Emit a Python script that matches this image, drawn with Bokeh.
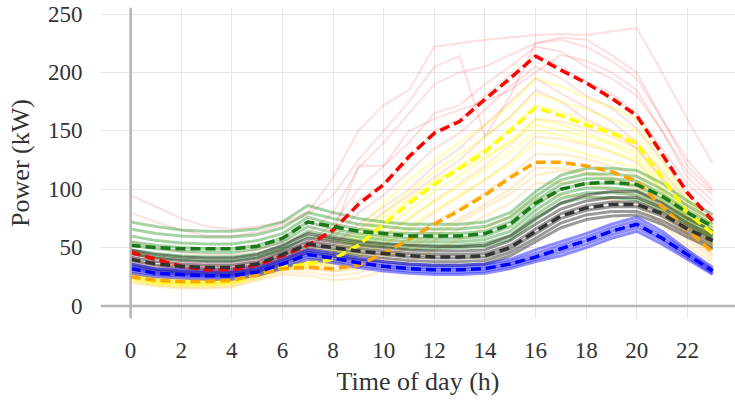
from bokeh.plotting import figure
from bokeh.models import Span, FixedTicker, Range1d
from bokeh.embed import file_html
from bokeh.resources import INLINE

hours = list(range(24))
x_ticks = list(range(0, 23, 2))
y_ticks = [0, 50, 100, 150, 200, 250]

red_members = [
    [95, 85, 75, 68, 66, 68, 72, 80, 110, 150, 172, 185, 222, 225, 228, 230, 232, 233, 232, 235, 238, 200, 160, 122],
    [80, 72, 65, 60, 60, 63, 70, 78, 95, 125, 150, 175, 205, 214, 145, 180, 225, 230, 228, 215, 200, 160, 120, 98],
    [55, 50, 46, 44, 44, 48, 55, 62, 80, 118, 140, 165, 190, 200, 205, 215, 225, 228, 222, 210, 195, 160, 125, 100],
    [48, 42, 38, 36, 36, 40, 46, 55, 70, 100, 120, 140, 165, 172, 190, 205, 222, 218, 205, 195, 180, 150, 115, 95],
    [42, 38, 34, 32, 32, 36, 42, 50, 62, 90, 105, 125, 150, 160, 180, 198, 215, 205, 192, 182, 165, 135, 105, 85],
    [38, 34, 30, 29, 29, 33, 40, 48, 58, 80, 95, 115, 135, 148, 168, 188, 205, 195, 180, 170, 152, 125, 95, 78],
    [35, 31, 28, 27, 27, 31, 38, 45, 52, 70, 85, 100, 120, 135, 155, 175, 195, 182, 170, 158, 140, 115, 90, 72],
    [40, 35, 32, 30, 30, 34, 40, 47, 55, 65, 80, 95, 110, 125, 145, 162, 185, 175, 160, 150, 135, 110, 85, 70],
    [45, 40, 36, 34, 34, 38, 45, 52, 62, 120, 120, 150, 160, 168, 175, 185, 200, 215, 210, 200, 185, 150, 110, 90],
]
red_mean = [46, 40, 34, 31, 31, 35, 43, 52, 65, 87, 104, 128, 148, 158, 177, 195, 214, 202, 191, 178, 163, 130, 97, 73]

yellow_members = [
    [28, 24, 22, 22, 23, 29, 36, 40, 48, 65, 88, 108, 125, 140, 155, 172, 195, 188, 178, 170, 160, 125, 92, 70],
    [26, 22, 21, 21, 22, 28, 35, 38, 45, 60, 80, 98, 115, 130, 145, 162, 182, 175, 168, 160, 150, 118, 88, 66],
    [25, 21, 20, 20, 21, 27, 34, 37, 42, 55, 72, 90, 106, 120, 135, 152, 172, 166, 158, 150, 142, 112, 82, 62],
    [24, 20, 19, 19, 20, 26, 33, 35, 40, 50, 66, 82, 98, 112, 126, 142, 160, 155, 148, 140, 132, 105, 77, 58],
    [23, 19, 18, 18, 19, 25, 32, 34, 38, 46, 60, 75, 90, 103, 117, 132, 150, 146, 140, 132, 125, 98, 72, 55],
    [22, 18, 17, 17, 18, 24, 31, 33, 36, 42, 54, 68, 82, 95, 108, 122, 140, 136, 130, 124, 118, 92, 68, 52],
    [27, 23, 21, 21, 22, 28, 35, 38, 44, 58, 76, 92, 108, 118, 128, 140, 155, 150, 145, 138, 128, 100, 75, 56],
]
yellow_mean = [25, 21, 20, 20, 21, 27, 33, 36, 40, 52, 70, 88, 104, 118, 132, 150, 170, 163, 155, 148, 139, 110, 80, 62]

orange_members = [
    [30, 26, 24, 24, 25, 30, 36, 38, 40, 48, 60, 75, 90, 105, 120, 138, 160, 158, 152, 145, 135, 108, 82, 58],
    [28, 24, 22, 22, 23, 28, 34, 36, 36, 42, 52, 65, 80, 94, 108, 124, 145, 143, 138, 132, 123, 98, 75, 52],
    [26, 22, 20, 20, 21, 27, 33, 34, 33, 38, 47, 58, 72, 84, 97, 112, 130, 130, 126, 120, 112, 90, 68, 48],
    [24, 20, 18, 18, 19, 25, 31, 32, 30, 33, 42, 52, 64, 75, 87, 100, 118, 118, 115, 110, 103, 83, 62, 44],
    [22, 18, 16, 16, 17, 23, 29, 29, 26, 28, 36, 45, 56, 66, 77, 88, 105, 106, 104, 100, 94, 76, 57, 40],
    [20, 17, 15, 15, 16, 22, 27, 26, 22, 24, 30, 38, 48, 57, 67, 77, 92, 95, 94, 91, 86, 70, 52, 37],
    [25, 21, 19, 19, 20, 26, 32, 33, 30, 32, 40, 50, 60, 72, 84, 96, 112, 116, 113, 108, 100, 80, 60, 43],
]
orange_mean = [25, 22, 21, 21, 22, 27, 32, 33, 32, 35, 45, 57, 70, 82, 95, 110, 123, 123, 120, 115, 107, 85, 65, 46]

green_members = [
    [72, 68, 65, 64, 64, 66, 72, 86, 80, 75, 72, 70, 70, 70, 72, 80, 98, 112, 118, 118, 116, 105, 90, 78],
    [66, 62, 60, 59, 59, 61, 67, 80, 75, 70, 68, 66, 66, 66, 68, 76, 94, 108, 113, 113, 111, 100, 86, 74],
    [60, 56, 54, 53, 53, 56, 62, 76, 70, 66, 63, 62, 62, 62, 64, 72, 90, 104, 109, 109, 107, 96, 82, 70],
    [55, 52, 50, 49, 49, 52, 58, 72, 66, 62, 60, 58, 58, 58, 60, 68, 86, 100, 105, 105, 103, 92, 79, 67],
    [52, 49, 47, 46, 46, 49, 55, 68, 63, 59, 57, 55, 55, 55, 57, 64, 82, 96, 101, 101, 99, 89, 76, 64],
    [48, 45, 43, 42, 42, 45, 51, 64, 60, 56, 54, 52, 52, 52, 54, 60, 78, 92, 97, 97, 95, 85, 73, 61],
    [45, 42, 40, 39, 39, 42, 48, 60, 57, 53, 51, 49, 49, 50, 51, 57, 74, 88, 93, 93, 91, 82, 70, 58],
]
green_mean = [52, 50, 49, 49, 49, 51, 58, 72, 68, 64, 62, 60, 60, 60, 62, 70, 88, 100, 105, 106, 104, 94, 80, 68]

black_members = [
    [48, 44, 42, 41, 41, 44, 52, 62, 58, 55, 53, 52, 51, 51, 52, 60, 75, 88, 95, 98, 98, 88, 75, 64],
    [45, 41, 39, 38, 38, 41, 49, 58, 55, 52, 50, 48, 47, 47, 48, 56, 70, 83, 90, 93, 93, 84, 71, 60],
    [42, 38, 36, 35, 35, 38, 46, 55, 52, 49, 47, 45, 44, 44, 45, 52, 66, 79, 86, 89, 89, 80, 68, 57],
    [39, 35, 33, 32, 32, 35, 43, 52, 49, 46, 44, 42, 41, 41, 42, 49, 62, 75, 82, 85, 85, 77, 65, 54],
    [36, 32, 30, 29, 29, 32, 40, 49, 46, 43, 41, 39, 38, 38, 39, 46, 58, 71, 78, 81, 81, 73, 62, 51],
    [33, 30, 28, 27, 27, 30, 37, 46, 43, 40, 38, 36, 35, 35, 36, 43, 55, 67, 74, 77, 78, 70, 59, 49],
]
black_mean = [40, 36, 34, 33, 33, 36, 44, 53, 50, 47, 45, 43, 42, 42, 43, 50, 64, 77, 84, 87, 87, 79, 66, 56]

blue_members = [
    [36, 32, 31, 30, 30, 33, 40, 48, 45, 41, 38, 36, 35, 35, 36, 40, 48, 55, 62, 70, 76, 64, 48, 33],
    [34, 30, 29, 28, 28, 31, 38, 46, 43, 39, 36, 34, 33, 33, 34, 38, 45, 52, 59, 67, 73, 61, 46, 31],
    [32, 28, 27, 26, 26, 29, 36, 44, 41, 37, 34, 32, 31, 31, 32, 36, 42, 49, 56, 64, 70, 58, 44, 30],
    [30, 27, 26, 25, 25, 28, 34, 42, 39, 35, 32, 30, 29, 29, 30, 34, 40, 46, 53, 61, 67, 56, 42, 28],
    [28, 25, 24, 23, 23, 26, 32, 40, 37, 33, 30, 28, 27, 27, 28, 32, 38, 43, 50, 58, 64, 53, 40, 27],
]
blue_mean = [32, 28, 27, 26, 26, 29, 36, 44, 41, 37, 34, 32, 31, 31, 32, 36, 42, 49, 56, 64, 70, 58, 44, 30]

FONT = "Liberation Serif"

p = figure(width=735, height=402, output_backend="svg", toolbar_location=None,
           x_range=Range1d(-1.19, 23.9), y_range=Range1d(-10.7, 255.6),
           min_border_left=100, min_border_right=0, min_border_top=7, min_border_bottom=84)
p.outline_line_color = None
p.background_fill_color = "white"
p.border_fill_color = "white"

for ax in (p.xaxis[0], p.yaxis[0]):
    ax.axis_line_color = None
    ax.major_tick_line_color = None
    ax.minor_tick_line_color = None
    ax.major_label_text_font = FONT
    ax.major_label_text_font_size = "23px"
    ax.major_label_text_color = "#333333"
    ax.axis_label_text_font = FONT
    ax.axis_label_text_font_size = "26px"
    ax.axis_label_text_font_style = "normal"
    ax.axis_label_text_color = "#333333"

p.xaxis.ticker = FixedTicker(ticks=x_ticks)
p.yaxis.ticker = FixedTicker(ticks=y_ticks)
p.xaxis.axis_label = "Time of day (h)"
p.yaxis.axis_label = "Power (kW)"
p.xaxis.major_label_standoff = 18
p.yaxis.major_label_standoff = 12
p.xaxis.axis_label_standoff = 6
p.yaxis.axis_label_standoff = 10

p.xgrid.ticker = FixedTicker(ticks=x_ticks)
p.ygrid.ticker = FixedTicker(ticks=y_ticks)
p.grid.grid_line_color = "#e6e6e6"
p.grid.grid_line_width = 1

groups = [
    (red_members, "#ff0000", 0.13, 2.0),
    (orange_members, "#ffa500", 0.18, 2.5),
    (yellow_members, "#ffff00", 0.25, 2.5),
    (green_members, "#008000", 0.35, 3.0),
    (black_members, "#000000", 0.4, 3.0),
    (blue_members, "#0000ff", 0.45, 3.0),
]
for members, color, alpha, lw in groups:
    for m in members:
        p.line(hours, m, line_color=color, line_alpha=alpha, line_width=lw)

means = [
    (red_mean, "#ff0000"),
    (yellow_mean, "#ffff00"),
    (orange_mean, "#ffa500"),
    (green_mean, "#1a7a1a"),
    (black_mean, "#333333"),
    (blue_mean, "#0000ff"),
]
for mv, color in means:
    p.line(hours, mv, line_color=color, line_width=3.5, line_dash="10 5")

p.add_layout(Span(location=0, dimension="height", line_color="#b5b5b5", line_width=2.5))
p.add_layout(Span(location=0, dimension="width", line_color="#b5b5b5", line_width=2.5))

open("out.html", "w").write(file_html(p, INLINE))
